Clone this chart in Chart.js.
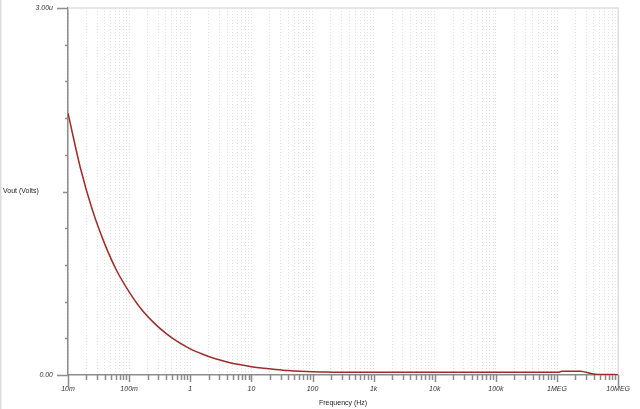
<!DOCTYPE html>
<html>
<head>
<meta charset="utf-8">
<script src="https://cdn.jsdelivr.net/npm/chart.js@4"></script>
<style>
  html, body { margin: 0; padding: 0; background: #fff; }
  #wrap { width: 640px; height: 409px; position: relative; }
</style>
</head>
<body>
<div id="wrap"><canvas id="myChart"></canvas></div>
<script>
// frequency (Hz) and Vout (in microvolts)
const freqs = [0.01, 0.016, 0.025, 0.04, 0.063, 0.1, 0.16, 0.25, 0.4, 0.63,
               1, 1.6, 2.5, 4, 6.3, 10, 16, 25, 40, 63, 100, 160, 250, 400,
               1000, 1e4, 1e5, 1e6, 1.05e6, 1.2e6, 2.4e6, 4.2e6, 1e7];
const voutMicro = [2.14, 1.69, 1.35, 1.07, 0.85, 0.68, 0.535, 0.43, 0.34, 0.27,
                   0.214, 0.17, 0.135, 0.107, 0.085, 0.068, 0.055, 0.045, 0.036, 0.030, 0.026, 0.024, 0.023, 0.022,
                   0.022, 0.022, 0.022, 0.022, 0.022, 0.030, 0.030, 0.006, 0.003];

const decades = [0.01, 0.1, 1, 10, 100, 1e3, 1e4, 1e5, 1e6, 1e7];
const xTickLabels = ['10m', '100m', '1', '10', '100', '1k', '10k', '100k', '1MEG', '10MEG'];
const yMax = 3;
const yStep = 0.3;
const yTickLabels = { 0: '0.00', 3: '3.00u' };

const axisGray = '#8c8c8c';
const tickFont = { family: 'Liberation Sans', size: 7, style: 'italic' };

function isDecade(v) {
    return decades.some(d => Math.abs(v / d - 1) < 1e-6);
}

// tick marks of different length for decades and in-between values
const tickMarks = {
    id: 'tickMarks',
    afterDraw(chart) {
        const {ctx, chartArea, scales} = chart;
        ctx.save();
        ctx.strokeStyle = axisGray;
        ctx.lineWidth = 1.5;
        ctx.beginPath();
        scales.x.ticks.forEach(t => {
            const px = Math.round(scales.x.getPixelForValue(t.value)) + 0.5;
            let len = isDecade(t.value) ? 7 : 5;
            if (t.value === decades[0] || t.value === decades[decades.length - 1]) len = 12;
            ctx.moveTo(px, chartArea.bottom);
            ctx.lineTo(px, chartArea.bottom + len);
        });
        scales.y.ticks.forEach(t => {
            const py = Math.round(scales.y.getPixelForValue(t.value)) + 0.5;
            let len = 3;
            if (Math.abs(t.value - yMax / 2) < 1e-6) len = 5;
            if (Math.abs(t.value) < 1e-6 || Math.abs(t.value - yMax) < 1e-6) len = 11;
            ctx.moveTo(chartArea.left, py);
            ctx.lineTo(chartArea.left - len, py);
        });
        ctx.stroke();

        // y title, written horizontally at the left
        ctx.fillStyle = '#222';
        ctx.font = '7px "Liberation Sans"';
        ctx.textBaseline = 'middle';
        ctx.textAlign = 'left';
        ctx.fillText('Vout (Volts)', 3, (chartArea.top + chartArea.bottom) / 2);

        // thin left edge of the picture
        ctx.fillStyle = '#dcdcdc';
        ctx.fillRect(0, 0, 1.5, chart.height);
        ctx.restore();
    },
    beforeDatasetsDraw(chart) {
        const {ctx, chartArea} = chart;
        ctx.save();
        ctx.strokeStyle = '#dedede';
        ctx.lineWidth = 1.5;
        ctx.beginPath();
        ctx.moveTo(chartArea.left, chartArea.top);
        ctx.lineTo(chartArea.right, chartArea.top);
        ctx.lineTo(chartArea.right, chartArea.bottom);
        ctx.stroke();
        ctx.restore();
    }
};

document.addEventListener("DOMContentLoaded", function() {
    const ctx = document.getElementById('myChart').getContext('2d');

    const data = {
        datasets: [
            {
                label: 'Vout',
                data: freqs.map((f, i) => ({ x: f, y: voutMicro[i] })),
                borderColor: '#9e2a2a',
                borderWidth: 1.5,
                pointRadius: 0,
                cubicInterpolationMode: 'monotone',
                fill: false
            }
        ]
    };

    const config = {
        type: 'line',
        data: data,
        options: {
            responsive: true,
            maintainAspectRatio: false,
            animation: false,
            layout: { padding: { left: 0, top: 0, right: 20, bottom: 0 } },
            scales: {
                x: {
                    type: 'logarithmic',
                    min: 0.01,
                    max: 1e7,
                    afterBuildTicks: (scale) => {
                        const ticks = [];
                        for (let k = 0; k < decades.length; k++) {
                            for (let m = 1; m <= 9; m++) {
                                const v = decades[k] * m;
                                if (v > decades[decades.length - 1] * 1.0001) break;
                                ticks.push({ value: v });
                            }
                        }
                        scale.ticks = ticks;
                    },
                    afterFit: (scale) => { scale.height = 34; },
                    ticks: {
                        autoSkip: false,
                        maxRotation: 0,
                        padding: 10,
                        color: '#333',
                        font: tickFont,
                        callback: (value) => {
                            const i = decades.findIndex(d => Math.abs(value / d - 1) < 1e-6);
                            return i >= 0 ? xTickLabels[i] : '';
                        }
                    },
                    grid: {
                        drawTicks: false,
                        color: 'rgba(0,0,0,0.12)',
                        lineWidth: 1
                    },
                    border: {
                        display: true,
                        color: axisGray,
                        width: 1.5,
                        dash: [1, 2]  // grid lines dotted
                    },
                    title: {
                        display: true,
                        text: 'Frequency (Hz)',
                        color: '#222',
                        font: { family: 'Liberation Sans', size: 7 },
                        padding: { top: 0, bottom: 2 }
                    }
                },
                y: {
                    min: 0,
                    max: yMax,
                    afterBuildTicks: (scale) => {
                        const ticks = [];
                        for (let i = 0; i <= Math.round(yMax / yStep); i++) {
                            ticks.push({ value: +(i * yStep).toFixed(2) });
                        }
                        scale.ticks = ticks;
                    },
                    afterFit: (scale) => {
                        scale.width = 68;
                        scale.paddingTop = 8;
                        scale.paddingBottom = 0;
                    },
                    ticks: {
                        autoSkip: false,
                        padding: 15,
                        color: '#333',
                        font: tickFont,
                        callback: (value) => yTickLabels[value] || ''
                    },
                    grid: {
                        drawTicks: false,
                        drawOnChartArea: false
                    },
                    border: {
                        display: true,
                        color: axisGray,
                        width: 1.5
                    }
                }
            },
            plugins: {
                legend: { display: false },
                tooltip: { enabled: false }
            }
        },
        plugins: [tickMarks]
    };

    const myChart = new Chart(ctx, config);
});
</script>
</body>
</html>
